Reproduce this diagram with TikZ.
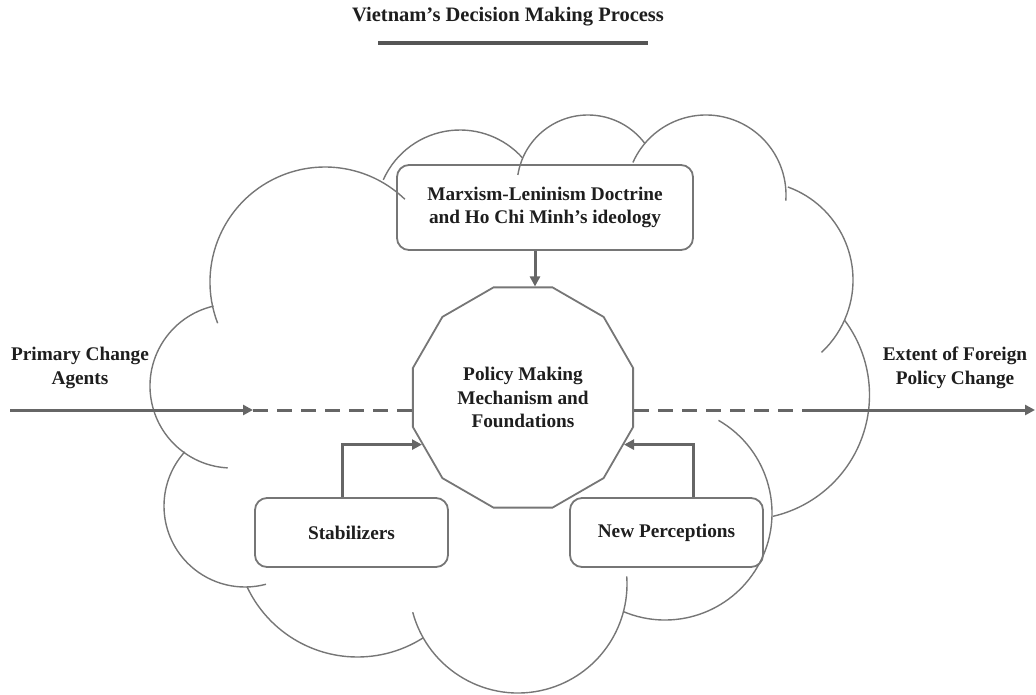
\documentclass[tikz,border=0pt]{standalone}
\usepackage{fontspec}
\setmainfont{Liberation Serif}
\usetikzlibrary{shapes.geometric,arrows.meta,calc}
\definecolor{linegray}{HTML}{767676}
\definecolor{arrowgray}{HTML}{666666}
\definecolor{textdark}{HTML}{1E1E1E}
\definecolor{rulegray}{HTML}{555555}
\begin{document}
\begin{tikzpicture}[x=1pt,y=1pt,
  cloudline/.style={draw=linegray, line width=1.4pt},
  txt/.style={align=center, text=textdark, font=\fontsize{19.3}{23.5}\selectfont\bfseries},
  boxstyle/.style={txt, draw=linegray, line width=1.8pt, rounded corners=12pt, inner sep=0pt},
  conn/.style={draw=arrowgray, line width=3pt},
  tip/.style={-{Triangle[length=10pt,width=10pt]}},
  dashconn/.style={conn, dash pattern=on 15pt off 9pt}
]
\useasboundingbox (0,0) rectangle (1036,-694);

% title
\node[txt, font=\fontsize{20.5}{24}\selectfont\bfseries] (title) at (508,-17) {Vietnam’s Decision Making Process};
\draw[draw=rulegray, line width=3.5pt] (378,-43) -- (648,-43);

% cloud
\draw[cloudline] (325,-282) ++(201:115pt) arc[start angle=201, end angle=46, radius=115pt];
\draw[cloudline] (460,-214) ++(156:84pt) arc[start angle=156, end angle=42, radius=84pt];
\draw[cloudline] (588,-186) ++(171:71pt) arc[start angle=171, end angle=37, radius=71pt];
\draw[cloudline] (706,-195) ++(156:80pt) arc[start angle=156, end angle=-4, radius=80pt];
\draw[cloudline] (754,-280) ++(70:99pt) arc[start angle=70, end angle=-47, radius=99pt];
\draw[cloudline] (745,-395) ++(37:124.5pt) arc[start angle=37, end angle=-77, radius=124.5pt];
\draw[cloudline] (665,-513) ++(60:107pt) arc[start angle=60, end angle=-113, radius=107pt];
\draw[cloudline] (518,-584) ++(195:109pt) arc[start angle=195, end angle=364, radius=109pt];
\draw[cloudline] (357.5,-535) ++(205:122pt) arc[start angle=205, end angle=302.5, radius=122pt];
\draw[cloudline] (245,-506) ++(138:81pt) arc[start angle=138, end angle=285, radius=81pt];
\draw[cloudline] (232,-386) ++(103:82pt) arc[start angle=103, end angle=267, radius=82pt];

% nodes
\node[boxstyle, minimum width=296pt, minimum height=85pt] (mx) at (545,-207.5)
  {Marxism-Leninism Doctrine\\and Ho Chi Minh’s ideology};
\node[txt, draw=linegray, line width=1.8pt, regular polygon, regular polygon sides=12,
  minimum size=228pt, inner sep=0pt] (pm) at (523,-397.5)
  {Policy Making\\Mechanism and\\Foundations};
\node[boxstyle, minimum width=193pt, minimum height=69pt] (stab) at (351.5,-532.5) {Stabilizers};
\node[boxstyle, minimum width=193pt, minimum height=69pt] (np) at (666.5,-532.5) {New Perceptions};
\node[txt] (pca) at (80,-368) {Primary Change\\Agents};
\node[txt] (efp) at (955,-368) {Extent of Foreign\\Policy Change};

% main flow line
\coordinate (lin) at (10,-410);
\coordinate (lmid) at (253,-410);
\coordinate (rmid) at (803,-410);
\coordinate (rout) at (1035,-410);
\draw[conn, tip] (lin) -- (lmid);
\draw[dashconn] (lmid) -- (pm.west |- lmid);
\draw[dashconn] (pm.east |- rmid) -- (rmid);
\draw[conn, tip] (rmid) -- (rout);

% feeders
\draw[conn, tip] ([xshift=-10pt]mx.south) -- ([xshift=-10pt]mx.south |- pm.north);
\draw[conn, tip] ([xshift=-9.5pt]stab.north) |- (pm.205);
\draw[conn, tip] ([xshift=26.5pt]np.north) |- (pm.335);
\end{tikzpicture}
\end{document}
